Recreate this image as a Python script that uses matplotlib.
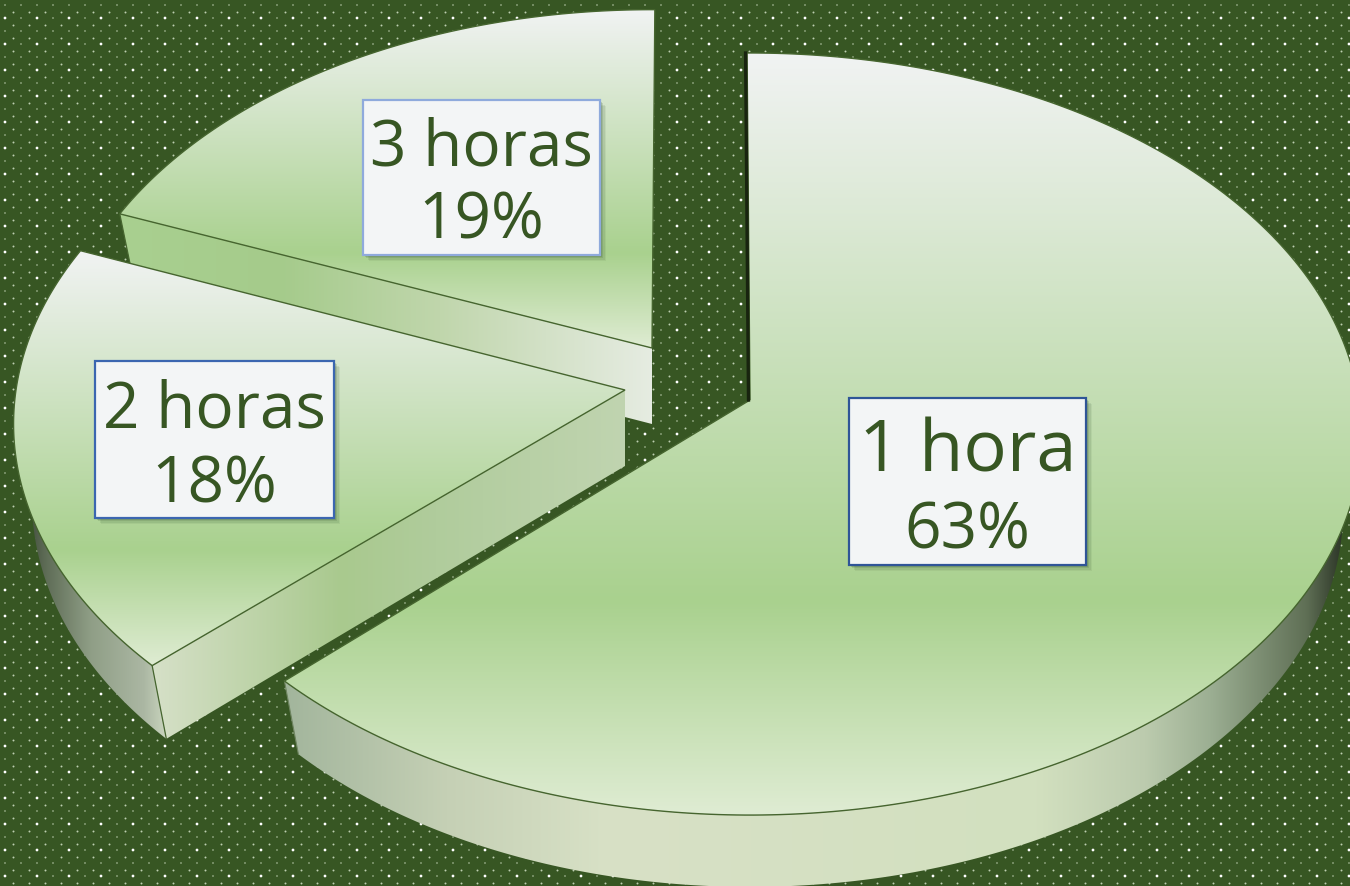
import numpy as np
import matplotlib
matplotlib.use("Agg")
import matplotlib.pyplot as plt
from matplotlib.colors import LinearSegmentedColormap
from matplotlib.patches import Polygon, Rectangle

# ---- data ----
categories = ["1 hora", "2 horas", "3 horas"]
values = [63, 18, 19]
pct_labels = ["63%", "18%", "19%"]

# ---- style / layout ----
plt.rcParams["font.family"] = ["Open Sans", "DejaVu Sans"]
BG = "#375623"
TXT = "#375623"
EDGE = "#46652F"
apex = [(750, 400), (625, 390), (652, 348)]
slice_scale = [1.0, 1.0, 0.975]
lean_start = [-0.3, 0.0, 0.5]
lean_end = [-1.0, 0.8, 0.3]
RX, RY, PERSP = 609.0, 378.0, 0.0893
THICK, SX, SY = 76.0, 0.97, 0.99
label_boxes = [(849, 398, 1086, 565), (95, 361, 334, 518), (363, 100, 600, 255)]
name_size = [52, 46, 46]
pct_size = [46, 46, 46]
name_pos = [0.33, 0.315, 0.313]
pct_pos = [0.80, 0.79, 0.785]
box_edge = ["#2F5597", "#3B66B0", "#8FAADC"]

top_stops = [(0, "#F1F3F3"), (0.72, "#A9D18E"), (1, "#DFECD3")]
outer_stops = [
    [(0, "#A2B59C"), (0.15, "#C5D0B5"), (0.3, "#D8E1C6"), (0.7, "#D2E0BF"), (0.8, "#BCCBAE"),
     (0.86, "#9CAF93"), (0.95, "#5F6F55"), (0.985, "#2A3325"), (1, "#2A3325")],
    [(0, "#2B3527"), (0.2, "#5D6B55"), (0.5, "#8F9E86"), (0.85, "#ABB7A3"), (1, "#CBD6BF")],
    [(0, "#A9D090"), (1, "#A9D090")],
]
cut_stops = [
    None,
    [(0, "#D6E0C8"), (0.4, "#A9C98E"), (0.6, "#B0CC9C"), (1, "#C0D4B0")],
    [(0, "#A9D090"), (0.3, "#A5CB8B"), (0.6, "#C0D6AC"), (1, "#E6ECE2")],
]

fig = plt.figure(figsize=(13.5, 8.86), dpi=100, facecolor=BG)
ax = fig.add_axes([0, 0, 1, 1])
ax.set_facecolor(BG)
ax.axis("off")

# background dot texture
ys = 5.5 + 6.5 * np.arange(137)
for k, y in enumerate(ys):
    if k % 2:
        xs = 12.7 + 16 * np.arange(85)
        ax.scatter(xs, np.full_like(xs, y), s=2.0, color="#BCCEB0", lw=0, zorder=1)
    else:
        xs = 5 + 16 * np.arange(85)
        bright = (k % 4 == 2)
        s = [4.0 if (bright and m % 2 == 0) else 1.3 for m in range(85)]
        c = ["#FFFFFF" if (bright and m % 2 == 0) else "#B0C2A2" for m in range(85)]
        ax.scatter(xs, np.full_like(xs, y), s=s, c=c, lw=0, zorder=1)


def cmap_of(stops):
    return LinearSegmentedColormap.from_list("g", stops, N=512)


def grad_fill(pts, stops, vertical, z):
    pts = np.asarray(pts)
    x0, x1 = pts[:, 0].min(), pts[:, 0].max()
    y0, y1 = pts[:, 1].min(), pts[:, 1].max()
    g = np.linspace(0, 1, 512)
    arr = g[:, None] if vertical else g[None, :]
    im = ax.imshow(arr, cmap=cmap_of(stops), vmin=0, vmax=1, extent=(x0, x1, y1, y0),
                   aspect="auto", origin="upper", zorder=z, interpolation="bilinear")
    patch = Polygon(pts, closed=True, transform=ax.transData, fc="none", ec="none")
    ax.add_patch(patch)
    im.set_clip_path(patch)


def project(theta_deg, i):
    t = np.radians(theta_deg)
    u, v = np.sin(t), -np.cos(t)
    w = 1 - PERSP * v
    k = slice_scale[i]
    return RX * k * u / w, RY * k * v / w


def lower(dx, dy, i):
    return apex[i][0] + dx * SX, apex[i][1] + dy * SY + THICK


fractions = np.array(values) / sum(values)
edges = np.concatenate([[0], np.cumsum(fractions) * 360])

# far slices first, the large slice last
for i in [2, 1, 0]:
    a0, a1 = edges[i] + lean_start[i], edges[i + 1] + lean_end[i]
    cx, cy = apex[i]
    z = 10 + (2 - i) * 5
    th = np.linspace(a0, a1, 300)
    dx, dy = project(th, i)
    top = np.column_stack([cx + dx, cy + dy])
    lx, ly = lower(dx, dy, i)
    low = np.column_stack([lx, ly])

    # outer rim wall (only the side that faces the viewer)
    vis = np.sin(np.radians(th) - np.pi / 2) >= -0.35
    if vis.any() and i != 2:
        wall = np.vstack([top[vis], low[vis][::-1]])
        grad_fill(wall, outer_stops[i], False, z)
    # cut wall facing the viewer
    if cut_stops[i] is not None:
        end, end_low = top[0], low[0]
        wall = np.array([[cx, cy], end, end_low, [cx, cy + THICK]])
        grad_fill(wall, cut_stops[i], False, z + 1)
        ax.plot(*zip(end, end_low), color=EDGE, lw=0.9, zorder=z + 2)
    # top face
    face = np.vstack([[cx, cy], top])
    grad_fill(face, top_stops, True, z + 3)
    ax.add_patch(Polygon(face, closed=True, fc="none", ec=EDGE, lw=1.0, zorder=z + 4,
                         joinstyle="miter"))
    if i == 0:
        ax.plot([cx - 1.5, top[0, 0] - 1.5], [cy, top[0, 1]], color="#18240F", lw=2.4,
                zorder=z + 4)
        ax.plot(*zip(top[-1], low[-1]), color="#6E8460", lw=0.8, zorder=z + 2)

# labels
for i, (x0, y0, x1, y1) in enumerate(label_boxes):
    for off, al in [(6, 0.07), (4.5, 0.10), (3, 0.14), (1.5, 0.18)]:
        ax.add_patch(Rectangle((x0 + off, y0 + off), x1 - x0, y1 - y0, fc="#2F4F2A", ec="none",
                               alpha=al, zorder=40))
    ax.add_patch(Rectangle((x0, y0), x1 - x0, y1 - y0, fc="#F3F5F6", ec=box_edge[i], lw=1.6,
                           zorder=41))
    xc = (x0 + x1) / 2
    h = y1 - y0
    ax.text(xc, y0 + h * name_pos[i], categories[i], ha="center", va="center", color=TXT,
            fontsize=name_size[i], zorder=42)
    ax.text(xc, y0 + h * pct_pos[i], pct_labels[i], ha="center", va="center", color=TXT,
            fontsize=pct_size[i], zorder=42)

ax.set_xlim(0, 1350)
ax.set_ylim(886, 0)
fig.savefig("out.png", dpi=100, facecolor=BG)
